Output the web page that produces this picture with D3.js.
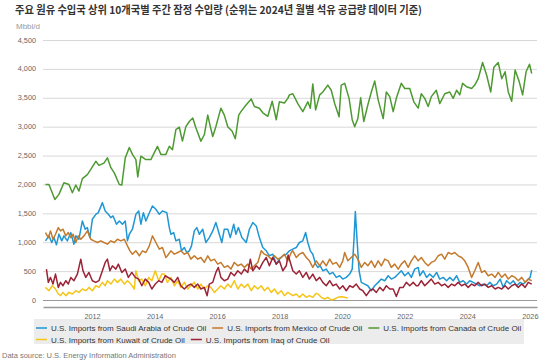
<!DOCTYPE html>
<html>
<head>
<meta charset="utf-8">
<script src="https://cdn.jsdelivr.net/npm/d3@7"></script>
<style>
  body { margin: 0; background: #fff; }
  svg text { font-family: "Liberation Sans", Arial, sans-serif; }
</style>
</head>
<body>
<svg id="chart" width="550" height="363"></svg>
<script>
// weekly crude imports (thousand barrels/day) as [decimal year, value]
const saudi = [
  [2010.51,1024],[2010.62,1110],[2010.71,995],[2010.78,1080],[2010.86,955],[2010.94,1140],[2011.03,1024],[2011.10,1110],
  [2011.21,1024],[2011.32,1167],[2011.42,966],[2011.48,1110],[2011.58,1052],[2011.69,1368],[2011.78,1225],[2011.85,1253],
  [2011.93,1080],[2012.01,1397],[2012.12,1483],[2012.20,1512],[2012.33,1685],[2012.42,1541],[2012.52,1483],[2012.60,1426],
  [2012.67,1455],[2012.78,1311],[2012.87,1368],[2012.97,1311],[2013.06,1368],[2013.13,1024],[2013.19,1138],[2013.29,1225],
  [2013.40,1483],[2013.49,1541],[2013.56,1311],[2013.64,1512],[2013.72,1368],[2013.81,1483],[2013.93,1627],[2014.04,1570],
  [2014.15,1483],[2014.25,1541],[2014.39,1512],[2014.47,1253],[2014.52,1138],[2014.61,1167],[2014.68,1024],[2014.79,1052],
  [2014.86,851],[2014.95,908],[2015.03,822],[2015.11,851],[2015.18,937],[2015.27,1196],[2015.35,1253],[2015.43,1138],
  [2015.54,1225],[2015.64,995],[2015.75,1080],[2015.86,1196],[2015.96,1340],[2016.07,1138],[2016.15,995],[2016.23,1225],
  [2016.34,1225],[2016.42,1080],[2016.53,1311],[2016.60,1138],[2016.68,1253],[2016.79,1080],[2016.93,995],[2017.03,1225],
  [2017.14,1340],[2017.25,1282],[2017.35,1080],[2017.46,908],[2017.57,851],[2017.67,765],[2017.78,793],[2017.89,621],
  [2017.99,707],[2018.10,765],[2018.21,793],[2018.31,851],[2018.42,880],[2018.53,908],[2018.63,995],[2018.74,1024],
  [2018.83,1167],[2018.90,995],[2018.98,851],[2019.06,793],[2019.15,621],[2019.22,564],[2019.30,592],[2019.38,506],
  [2019.49,535],[2019.60,449],[2019.70,477],[2019.81,391],[2019.92,420],[2020.02,362],[2020.13,391],[2020.24,449],
  [2020.32,535],[2020.38,1080],[2020.42,1530],[2020.47,1080],[2020.54,506],[2020.61,305],[2020.72,276],[2020.82,247],
  [2020.93,161],[2021.04,247],[2021.15,305],[2021.25,362],[2021.36,334],[2021.47,420],[2021.57,362],[2021.68,391],
  [2021.79,449],[2021.89,506],[2022.00,420],[2022.11,477],[2022.21,391],[2022.32,535],[2022.43,564],[2022.48,420],
  [2022.59,506],[2022.70,391],[2022.80,449],[2022.91,391],[2023.02,477],[2023.12,362],[2023.23,391],[2023.34,334],
  [2023.44,391],[2023.55,334],[2023.66,420],[2023.76,305],[2023.87,334],[2023.98,276],[2024.08,334],[2024.19,305],
  [2024.30,276],[2024.40,247],[2024.51,276],[2024.62,247],[2024.72,305],[2024.83,247],[2024.94,276],[2025.05,362],
  [2025.15,218],[2025.26,334],[2025.37,276],[2025.47,334],[2025.58,247],[2025.69,305],[2025.79,276],[2025.90,334],
  [2026.01,391],[2026.06,518]
];
const mexico = [
  [2010.51,1167],[2010.60,1080],[2010.67,1196],[2010.75,1052],[2010.83,1138],[2010.92,1253],[2010.99,1196],[2011.07,1225],
  [2011.16,1110],[2011.24,1167],[2011.32,1080],[2011.39,1138],[2011.48,995],[2011.56,1110],[2011.64,1052],[2011.74,1110],
  [2011.85,1196],[2011.96,1052],[2012.06,1024],[2012.17,995],[2012.28,1024],[2012.38,995],[2012.49,966],[2012.60,1024],
  [2012.71,995],[2012.81,1052],[2012.92,1024],[2013.03,1052],[2013.13,937],[2013.21,851],[2013.29,793],[2013.40,851],
  [2013.51,765],[2013.61,851],[2013.72,822],[2013.83,937],[2013.93,1110],[2014.04,995],[2014.15,880],[2014.25,908],
  [2014.36,736],[2014.41,765],[2014.52,851],[2014.63,793],[2014.74,822],[2014.84,851],[2014.95,793],[2015.06,822],
  [2015.16,707],[2015.27,765],[2015.38,707],[2015.48,736],[2015.59,650],[2015.70,765],[2015.80,678],[2015.91,707],
  [2016.02,621],[2016.12,650],[2016.23,564],[2016.34,592],[2016.44,535],[2016.55,650],[2016.66,592],[2016.77,621],
  [2016.87,564],[2016.98,621],[2017.09,535],[2017.19,592],[2017.30,650],[2017.41,851],[2017.51,793],[2017.62,765],
  [2017.73,707],[2017.83,765],[2017.94,707],[2018.05,736],[2018.15,793],[2018.26,678],[2018.37,822],[2018.42,851],
  [2018.53,736],[2018.63,793],[2018.74,822],[2018.85,736],[2018.95,678],[2019.06,564],[2019.17,678],[2019.28,592],
  [2019.38,678],[2019.49,592],[2019.60,707],[2019.70,621],[2019.81,650],[2019.92,564],[2020.02,678],[2020.08,822],
  [2020.18,678],[2020.29,736],[2020.40,793],[2020.50,707],[2020.61,564],[2020.72,650],[2020.82,592],[2020.93,678],
  [2021.04,564],[2021.15,678],[2021.25,592],[2021.36,707],[2021.47,678],[2021.57,564],[2021.68,621],[2021.79,535],
  [2021.89,621],[2022.00,678],[2022.11,564],[2022.21,678],[2022.32,765],[2022.43,678],[2022.53,736],[2022.64,650],
  [2022.75,592],[2022.85,650],[2022.96,678],[2023.07,765],[2023.18,793],[2023.28,707],[2023.39,822],[2023.50,793],
  [2023.60,822],[2023.71,765],[2023.82,736],[2023.92,678],[2024.03,564],[2024.14,391],[2024.24,506],[2024.35,650],
  [2024.46,477],[2024.56,506],[2024.67,420],[2024.78,449],[2024.89,391],[2024.99,477],[2025.10,391],[2025.21,449],
  [2025.31,362],[2025.42,420],[2025.53,391],[2025.63,334],[2025.74,391],[2025.85,305],[2025.95,362],[2026.06,334]
];
const canada = [
  [2010.51,2000],[2010.62,2000],[2010.81,1741],[2010.94,1828],[2011.10,2030],[2011.26,2000],[2011.37,1856],[2011.48,1990],
  [2011.58,1885],[2011.69,2100],[2011.85,2170],[2011.96,2260],[2012.12,2400],[2012.22,2330],[2012.38,2370],[2012.49,2460],
  [2012.60,2290],[2012.71,2200],[2012.87,2000],[2012.95,1990],[2013.06,2460],[2013.19,2640],[2013.29,2520],[2013.40,2430],
  [2013.46,2130],[2013.56,2490],[2013.72,2430],[2013.88,2430],[2013.99,2550],[2014.09,2660],[2014.20,2520],[2014.36,2520],
  [2014.47,2660],[2014.57,2600],[2014.68,2950],[2014.79,2990],[2014.89,2750],[2015.00,3000],[2015.11,3090],[2015.22,3150],
  [2015.32,2980],[2015.48,2750],[2015.59,2860],[2015.70,3200],[2015.77,3030],[2015.86,2830],[2015.96,3000],[2016.12,3320],
  [2016.23,3200],[2016.34,3000],[2016.48,2920],[2016.58,2790],[2016.69,3200],[2016.76,3260],[2016.93,3380],[2017.09,3480],
  [2017.19,3350],[2017.35,3320],[2017.46,3240],[2017.62,3180],[2017.76,3440],[2017.89,3120],[2017.99,3430],[2018.15,3410],
  [2018.26,3490],[2018.31,3550],[2018.42,3570],[2018.58,3400],[2018.74,3260],[2018.90,3430],[2018.98,3320],[2019.06,3740],
  [2019.15,3290],[2019.28,3550],[2019.38,3600],[2019.54,3720],[2019.65,3630],[2019.76,3400],[2019.90,3170],[2019.97,3720],
  [2020.08,3750],[2020.22,3490],[2020.32,3120],[2020.40,3000],[2020.50,3140],[2020.59,3500],[2020.69,3090],[2020.82,3380],
  [2020.93,3600],[2021.04,3790],[2021.15,3460],[2021.31,3140],[2021.41,3600],[2021.52,3520],[2021.63,3260],[2021.73,3490],
  [2021.89,3750],[2022.00,3660],[2022.16,3660],[2022.29,3430],[2022.43,3320],[2022.53,3570],[2022.64,3490],[2022.75,3350],
  [2022.85,3520],[2023.01,3630],[2023.12,3400],[2023.28,3570],[2023.44,3600],[2023.55,3490],[2023.66,3630],[2023.76,3550],
  [2023.85,3750],[2023.98,3690],[2024.14,3660],[2024.24,3720],[2024.35,3830],[2024.49,4110],[2024.62,3890],[2024.75,3600],
  [2024.85,4030],[2024.99,4110],[2025.10,3830],[2025.21,3950],[2025.31,3600],[2025.42,3440],[2025.53,3980],[2025.66,3780],
  [2025.77,3550],[2025.88,3950],[2025.99,4080],[2026.06,3920]
];
const kuwait = [
  [2010.51,218],[2010.62,161],[2010.73,247],[2010.83,190],[2010.92,104],[2010.99,75],[2011.07,132],[2011.16,75],
  [2011.26,132],[2011.37,104],[2011.48,161],[2011.58,132],[2011.69,190],[2011.80,161],[2011.90,218],[2012.01,161],
  [2012.12,247],[2012.22,218],[2012.33,305],[2012.42,247],[2012.49,334],[2012.60,276],[2012.71,362],[2012.81,305],
  [2012.92,362],[2013.03,276],[2013.13,334],[2013.24,276],[2013.35,190],[2013.40,506],[2013.49,334],[2013.59,362],
  [2013.70,247],[2013.81,391],[2013.91,334],[2014.02,506],[2014.13,334],[2014.23,449],[2014.31,449],[2014.41,305],
  [2014.52,391],[2014.63,247],[2014.74,334],[2014.84,218],[2014.95,305],[2015.06,190],[2015.16,247],[2015.27,305],
  [2015.38,190],[2015.48,276],[2015.59,190],[2015.70,247],[2015.80,218],[2015.91,132],[2016.02,190],[2016.12,247],
  [2016.23,190],[2016.34,276],[2016.44,218],[2016.55,334],[2016.66,190],[2016.77,276],[2016.87,218],[2016.98,276],
  [2017.09,161],[2017.19,247],[2017.30,190],[2017.41,247],[2017.51,161],[2017.62,218],[2017.73,132],[2017.83,190],
  [2017.94,104],[2018.05,161],[2018.15,75],[2018.26,132],[2018.42,75],[2018.53,104],[2018.63,46],[2018.74,104],
  [2018.85,46],[2018.95,75],[2019.06,46],[2019.17,115],[2019.25,92],[2019.33,46],[2019.44,17],[2019.54,46],
  [2019.65,0],[2019.76,17],[2019.86,46],[2019.97,58],[2020.08,46],[2020.18,35]
];
const iraq = [
  [2010.54,535],[2010.60,305],[2010.67,391],[2010.75,276],[2010.83,449],[2010.92,218],[2010.99,305],[2011.07,247],
  [2011.16,334],[2011.24,276],[2011.32,391],[2011.42,334],[2011.53,449],[2011.64,707],[2011.71,506],[2011.80,391],
  [2011.90,477],[2012.01,334],[2012.12,305],[2012.22,334],[2012.33,506],[2012.42,650],[2012.49,707],[2012.57,506],
  [2012.65,592],[2012.76,535],[2012.84,621],[2012.95,477],[2013.06,535],[2013.16,391],[2013.27,477],[2013.38,391],
  [2013.49,362],[2013.59,247],[2013.70,362],[2013.81,305],[2013.91,190],[2014.02,276],[2014.13,334],[2014.23,305],
  [2014.34,420],[2014.52,362],[2014.63,305],[2014.74,391],[2014.84,247],[2014.95,190],[2015.06,247],[2015.16,276],
  [2015.27,218],[2015.38,276],[2015.48,190],[2015.59,218],[2015.68,75],[2015.75,276],[2015.86,305],[2015.96,477],
  [2016.04,564],[2016.12,391],[2016.23,334],[2016.34,362],[2016.44,477],[2016.55,420],[2016.66,506],[2016.77,449],
  [2016.87,535],[2016.98,477],[2017.06,707],[2017.14,506],[2017.25,592],[2017.35,535],[2017.46,650],[2017.57,736],
  [2017.67,592],[2017.78,736],[2017.89,621],[2017.99,678],[2018.10,506],[2018.21,592],[2018.27,780],[2018.42,506],
  [2018.53,449],[2018.63,506],[2018.74,391],[2018.85,477],[2018.95,362],[2019.06,449],[2019.17,334],[2019.28,391],
  [2019.38,305],[2019.49,247],[2019.60,334],[2019.70,247],[2019.81,276],[2019.92,190],[2020.02,247],[2020.13,161],
  [2020.24,247],[2020.34,218],[2020.45,276],[2020.56,190],[2020.66,161],[2020.77,75],[2020.88,161],[2020.98,190],
  [2021.09,132],[2021.20,218],[2021.31,161],[2021.41,247],[2021.52,190],[2021.63,190],[2021.73,60],[2021.84,218],
  [2021.95,218],[2022.05,305],[2022.16,247],[2022.27,305],[2022.37,247],[2022.43,247],[2022.53,334],[2022.64,247],
  [2022.75,305],[2022.85,362],[2022.96,276],[2023.07,305],[2023.18,247],[2023.28,276],[2023.39,218],[2023.50,276],
  [2023.60,247],[2023.71,305],[2023.82,247],[2023.92,276],[2024.03,218],[2024.14,276],[2024.24,247],[2024.35,305],
  [2024.46,247],[2024.56,276],[2024.67,218],[2024.78,247],[2024.89,190],[2024.99,218],[2025.10,190],[2025.21,247],
  [2025.31,190],[2025.42,247],[2025.53,276],[2025.63,218],[2025.74,276],[2025.85,218],[2025.95,305],[2026.06,276]
];

const seriesNames = [
  "U.S. Imports from Saudi Arabia of Crude Oil",
  "U.S. Imports from Mexico of Crude Oil",
  "U.S. Imports from Canada of Crude Oil",
  "U.S. Imports from Kuwait of Crude Oil",
  "U.S. Imports from Iraq of Crude Oil"
];
const yTicks = [0, 500, 1000, 1500, 2000, 2500, 3000, 3500, 4000, 4500];
const titleText = "주요 원유 수입국 상위 10개국별 주간 잠정 수입량 (순위는 2024년 월별 석유 공급량 데이터 기준)";
const unitText = "Mbbl/d";
const sourceText = "Data source: U.S. Energy Information Administration";

const colors = ["#1f97d4", "#c47a2c", "#4e9a32", "#f5c518", "#9c2336"];
const allSeries = [saudi, mexico, canada, kuwait, iraq];

// decimal year -> Date
function toDate(y) {
  const yr = Math.floor(y);
  const start = Date.UTC(yr, 0, 1), end = Date.UTC(yr + 1, 0, 1);
  return new Date(start + (y - yr) * (end - start));
}

const svg = d3.select("#chart");

const x = d3.scaleUtc()
  .domain([toDate(2010.43), toDate(2026.23)])
  .range([43, 537]);
const y = d3.scaleLinear()
  .domain([0, 4500])
  .range([300, 40]);

// title + unit
svg.append("text")
  .attr("x", 15).attr("y", 14)
  .attr("font-size", 10.8).attr("font-weight", "bold")
  .attr("fill", "#333")
  .style("font-family", "'Noto Sans CJK KR', 'Liberation Sans', sans-serif")
  .attr("textLength", 407).attr("lengthAdjust", "spacingAndGlyphs")
  .text(titleText);

svg.append("text")
  .attr("x", 16).attr("y", 29)
  .attr("font-size", 8).attr("fill", "#999")
  .text(unitText);

// gridlines
svg.append("g").selectAll("line")
  .data(yTicks)
  .join("line")
  .attr("x1", 43).attr("x2", 537)
  .attr("y1", d => y(d) + 0.5).attr("y2", d => y(d) + 0.5)
  .attr("stroke", d => d === 0 ? "#999" : "#d8d8d8")
  .attr("stroke-width", 1);

svg.append("g").selectAll("text")
  .data(yTicks)
  .join("text")
  .attr("x", 36).attr("y", d => y(d) + 2.6)
  .attr("text-anchor", "end")
  .attr("font-size", 7.3).attr("fill", "#666")
  .text(d3.format(","));

// x axis
const xAxis = svg.append("g").attr("transform", "translate(0,307)")
  .call(d3.axisBottom(x).ticks(d3.utcYear.every(2)).tickFormat(d3.utcFormat("%Y")).tickSize(0).tickPadding(7));
xAxis.select(".domain").attr("stroke", "#999").attr("stroke-width", 1.5);
xAxis.selectAll("text").attr("font-size", 7.3).attr("fill", "#666")
  .style("font-family", "'Liberation Sans', Arial, sans-serif");

// lines
const line = d3.line()
  .x(d => x(toDate(d[0])))
  .y(d => y(d[1]));

svg.append("g").selectAll("path")
  .data(allSeries)
  .join("path")
  .attr("fill", "none")
  .attr("stroke", (d, i) => colors[i])
  .attr("stroke-width", 1.5)
  .attr("stroke-linejoin", "round")
  .attr("d", line);

// legend
svg.append("rect")
  .attr("x", 34).attr("y", 319)
  .attr("width", 490).attr("height", 25)
  .attr("fill", "#ececec");

const rows = [[0, 1, 2], [3, 4]];
rows.forEach((row, r) => {
  let cx = 36;
  const ly = 328 + r * 11.5;
  row.forEach(i => {
    svg.append("line")
      .attr("x1", cx).attr("x2", cx + 11)
      .attr("y1", ly).attr("y2", ly)
      .attr("stroke", colors[i]).attr("stroke-width", 1.5);
    const t = svg.append("text")
      .attr("x", cx + 15).attr("y", ly + 3)
      .attr("font-size", 8).attr("fill", "#333")
      .text(seriesNames[i]);
    cx += 15 + t.node().getComputedTextLength() + 6;
  });
});

svg.append("text")
  .attr("x", 2).attr("y", 358)
  .attr("font-size", 7.5).attr("fill", "#777")
  .text(sourceText);
</script>
</body>
</html>
